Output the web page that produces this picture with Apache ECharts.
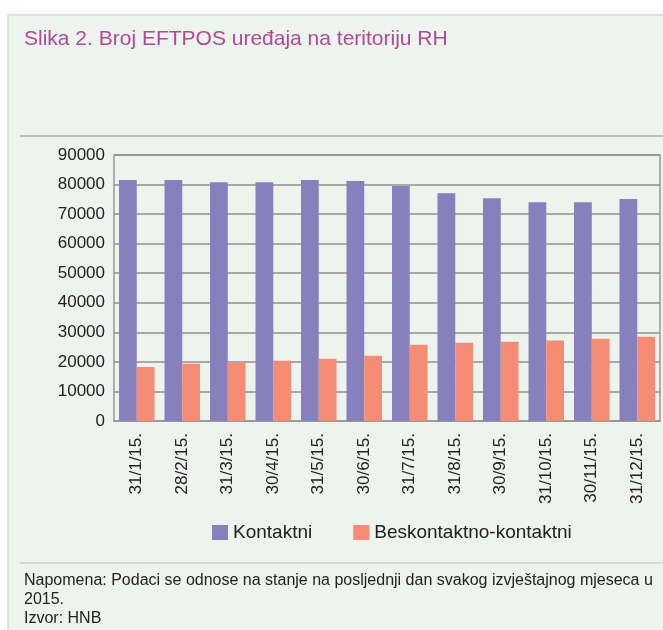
<!DOCTYPE html>
<html>
<head>
<meta charset="utf-8">
<script src="https://cdn.jsdelivr.net/npm/echarts@6/dist/echarts.min.js"></script>
<style>
  html, body { margin: 0; padding: 0; background: #fff; }
  #chart { width: 663px; height: 630px; }
</style>
</head>
<body>
<div id="chart"></div>
<script>
// podaci s grafikona
var months = ['31/1/15.', '28/2/15.', '31/3/15.', '30/4/15.', '31/5/15.', '30/6/15.',
  '31/7/15.', '31/8/15.', '30/9/15.', '31/10/15.', '30/11/15.', '31/12/15.'];
var kontaktni = [81500, 81500, 80800, 80800, 81500, 81200, 79500, 77100, 75400, 74000, 74000, 75100];
var beskontaktni = [18300, 19400, 19800, 20400, 21100, 22100, 25800, 26500, 26800, 27200, 27800, 28500];
var yTicks = [0, 10000, 20000, 30000, 40000, 50000, 60000, 70000, 80000, 90000];

var font = 'Liberation Sans';
var myChart = echarts.init(document.getElementById('chart'));

var option = {
  animation: false,
  textStyle: { fontFamily: font },
  graphic: [
    { type: 'rect', z: -10, shape: { x: 8, y: 15, width: 670, height: 630 },
      style: { fill: '#edf3ed', stroke: '#c6e4c8', lineWidth: 1.5 } },
    { type: 'text', left: 24, top: 29,
      style: { text: 'Slika 2. Broj EFTPOS uređaja na teritoriju RH', fill: '#b2489a', font: '21px ' + font } },
    { type: 'line', shape: { x1: 20, y1: 136, x2: 663, y2: 136 }, style: { stroke: '#8c8c8c', lineWidth: 1 } },
    { type: 'line', shape: { x1: 20, y1: 563, x2: 663, y2: 563 }, style: { stroke: '#bdbdbd', lineWidth: 1 } },
    { type: 'text', left: 24, top: 571,
      style: { text: 'Napomena: Podaci se odnose na stanje na posljednji dan svakog izvještajnog mjeseca u\n2015.\nIzvor: HNB',
        fill: '#222', font: '16px ' + font, lineHeight: 19 } }
  ],
  legend: {
    left: 207, top: 518,
    itemWidth: 16, itemHeight: 15, itemGap: 41,
    icon: 'rect',
    textStyle: { fontSize: 19, color: '#222', fontFamily: font },
    data: ['Kontaktni', 'Beskontaktno-kontaktni']
  },
  grid: {
    left: 114, right: 3, top: 155, bottom: 209,
    show: true, borderColor: '#999', borderWidth: 1.5, backgroundColor: 'transparent'
  },
  xAxis: {
    type: 'category',
    data: months,
    axisLine: { lineStyle: { color: '#999', width: 2 } },
    axisTick: { show: false },
    axisLabel: { rotate: 90, fontSize: 17, color: '#222', margin: 12, interval: 0 }
  },
  yAxis: {
    type: 'value',
    min: yTicks[0], max: yTicks[yTicks.length - 1], interval: 10000,
    axisLine: { show: false },
    axisTick: { show: false },
    splitLine: { lineStyle: { color: '#8f8f8f', width: 1.5 } },
    axisLabel: { fontSize: 17, color: '#222', margin: 9, formatter: function (v) { return String(v); } }
  },
  series: [
    { name: 'Kontaktni', type: 'bar', data: kontaktni, barGap: '0%', barCategoryGap: '22%',
      itemStyle: { color: '#8680bd' } },
    { name: 'Beskontaktno-kontaktni', type: 'bar', data: beskontaktni,
      itemStyle: { color: '#f58c74' } }
  ]
};

myChart.setOption(option);
</script>
</body>
</html>
